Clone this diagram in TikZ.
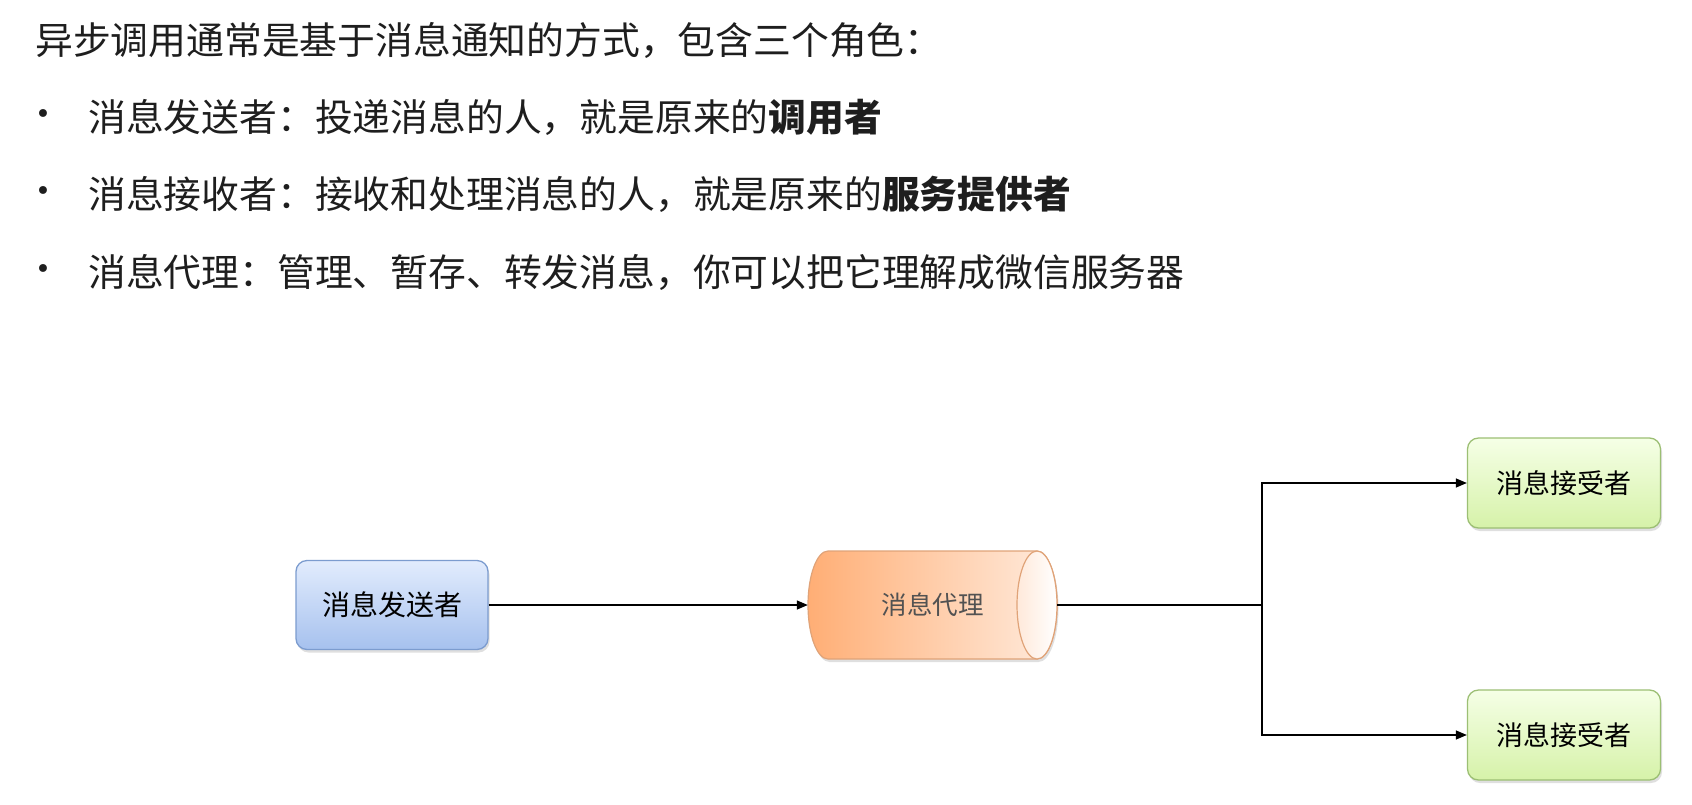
\documentclass[tikz,border=0pt]{standalone}
\usepackage{fontspec}
\setmainfont{Noto Sans CJK SC}
\newfontfamily\dejavu{DejaVu Sans}
\usetikzlibrary{shadows,arrows.meta}
\definecolor{sendtop}{HTML}{E2ECFD}
\definecolor{sendbot}{HTML}{A6C1EE}
\definecolor{sendline}{HTML}{7C9CCF}
\definecolor{cylL}{HTML}{FFAE75}
\definecolor{cylR}{HTML}{FFEBDD}
\definecolor{cylline}{HTML}{E0A378}
\definecolor{cylEndL}{HTML}{FFE9DA}
\definecolor{recvtop}{HTML}{F5FFE6}
\definecolor{recvbot}{HTML}{D6F2A9}
\definecolor{recvline}{HTML}{9CBF74}
\definecolor{txt}{HTML}{1E1E1E}
\begin{document}
\begin{tikzpicture}[x=1pt,y=-1pt,
  textline/.style={anchor=west, inner sep=0pt, text=txt, font=\fontsize{37.8}{44}\selectfont},
  bulletmark/.style={anchor=center, inner sep=0pt, text=txt, font=\dejavu\fontsize{27}{32}\selectfont},
  shade/.style={drop shadow={opacity=0.25, shadow xshift=1.5pt, shadow yshift=-3pt}},
  sendbox/.style={shade, rounded corners=11pt, draw=sendline, line width=1.3pt,
    top color=sendtop, bottom color=sendbot, minimum width=192pt, minimum height=89pt,
    text=black, font=\fontsize{28}{32}\selectfont},
  recvbox/.style={shade, rounded corners=11pt, draw=recvline, line width=1.3pt,
    top color=recvtop, bottom color=recvbot, minimum width=193pt, minimum height=90pt,
    text=black, font=\fontsize{27}{32}\selectfont},
  cyltext/.style={minimum width=249pt, minimum height=108pt, inner sep=0pt,
    text=black!68, font=\fontsize{25.5}{30}\selectfont},
  arr/.style={line width=1.3pt, -{Triangle[length=11pt,width=9pt]}},
  wire/.style={line width=1.3pt}
]
\useasboundingbox (0,0) rectangle (1692,804);
\fill[white] (0,0) rectangle (1692,804);

% text block
\node[textline] (head) at (35,40) {异步调用通常是基于消息通知的方式，包含三个角色：};
\node[bulletmark] (b1) at (43,117) {•};
\node[textline] (l1) at (88,117) {消息发送者：投递消息的人，就是原来的\textbf{调用者}};
\node[bulletmark] (b2) at (43,194) {•};
\node[textline] (l2) at (88,194) {消息接收者：接收和处理消息的人，就是原来的\textbf{服务提供者}};
\node[bulletmark] (b3) at (43,272) {•};
\node[textline] (l3) at (88,272) {消息代理：管理、暂存、转发消息，你可以把它理解成微信服务器};

% sender
\node[sendbox] (sender) at (392,605) {消息发送者};

% broker cylinder
\path[shade, left color=cylL, right color=cylR, draw=cylline, line width=1.2pt]
  (828,551) -- (1037,551) arc[start angle=-90, end angle=90, x radius=20, y radius=54]
  -- (828,659) arc[start angle=90, end angle=270, x radius=20, y radius=54] -- cycle;
\path[left color=cylEndL, right color=white, draw=cylline, line width=1.2pt]
  (1037,605) ellipse[x radius=20, y radius=54];
\node[cyltext] (broker) at (932.5,605) {消息代理};

% receivers
\node[recvbox] (recv1) at (1564,483) {消息接受者};
\node[recvbox] (recv2) at (1564,735) {消息接受者};

% connectors
\coordinate (junc) at (1262,605);
\draw[arr] (sender.east) -- (broker.west);
\draw[wire] (broker.east) -- (junc);
\draw[arr] (junc) |- (recv1.west);
\draw[arr] (junc) |- (recv2.west);
\end{tikzpicture}
\end{document}
